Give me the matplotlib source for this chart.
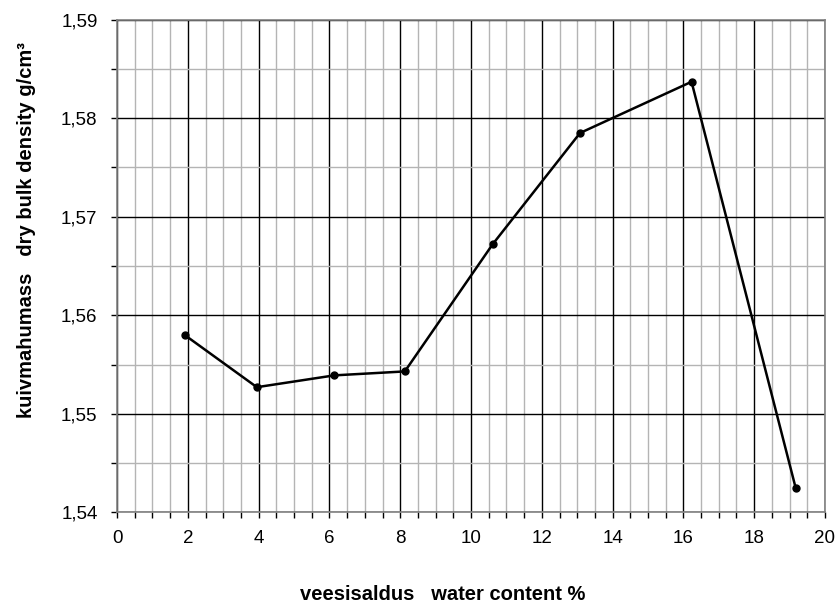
import matplotlib
matplotlib.use("Agg")
import matplotlib.pyplot as plt
from matplotlib.ticker import MultipleLocator, FuncFormatter

plt.rcParams['font.family'] = ['Liberation Sans', 'DejaVu Sans']

# water content (%) and dry bulk density (g/cm3)
water_content = [1.91, 3.95, 6.14, 8.13, 10.61, 13.08, 16.23, 19.17]
bulk_density = [1.5580, 1.5527, 1.5539, 1.5543, 1.5672, 1.5785, 1.5837, 1.5425]

fig = plt.figure(figsize=(8.39, 6.04), dpi=100)
ax = fig.add_axes([0.1395, 0.1518, 0.8438, 0.8156])

ax.plot(water_content, bulk_density, "k-", lw=1.8, marker="o", ms=5, zorder=5)

ax.set_xlim(0, 20)
ax.set_ylim(1.54, 1.59)
ax.xaxis.set_major_locator(MultipleLocator(2))
ax.xaxis.set_minor_locator(MultipleLocator(0.5))
ax.yaxis.set_major_locator(MultipleLocator(0.01))
ax.yaxis.set_minor_locator(MultipleLocator(0.005))
ax.yaxis.set_major_formatter(FuncFormatter(lambda v, p: f"{v:.2f}".replace(".", ",")))

ax.grid(which="major", color="black", lw=1.0)
ax.grid(which="minor", color="#b4b4b4", lw=1.0)
ax.set_axisbelow(True)

for s in ax.spines.values():
    s.set_color("#808080")
    s.set_linewidth(1.2)

ax.tick_params(which="both", direction="out", length=4, width=1, color="black",
               labelsize=13.5)
ax.tick_params(axis="x", pad=9)
ax.tick_params(axis="y", pad=10)

ax.set_xlabel("veesisaldus   water content %", fontsize=14.5, fontweight="bold")
ax.set_ylabel("kuivmahumass   dry bulk density g/cm\u00b3", fontsize=14.5, fontweight="bold")
ax.xaxis.label.set_va("baseline")
ax.xaxis.set_label_coords(0.46, -0.178)
ax.yaxis.label.set_va("center")
ax.yaxis.set_label_coords(-0.1285, 0.573)

fig.savefig("out.png", dpi=100)
